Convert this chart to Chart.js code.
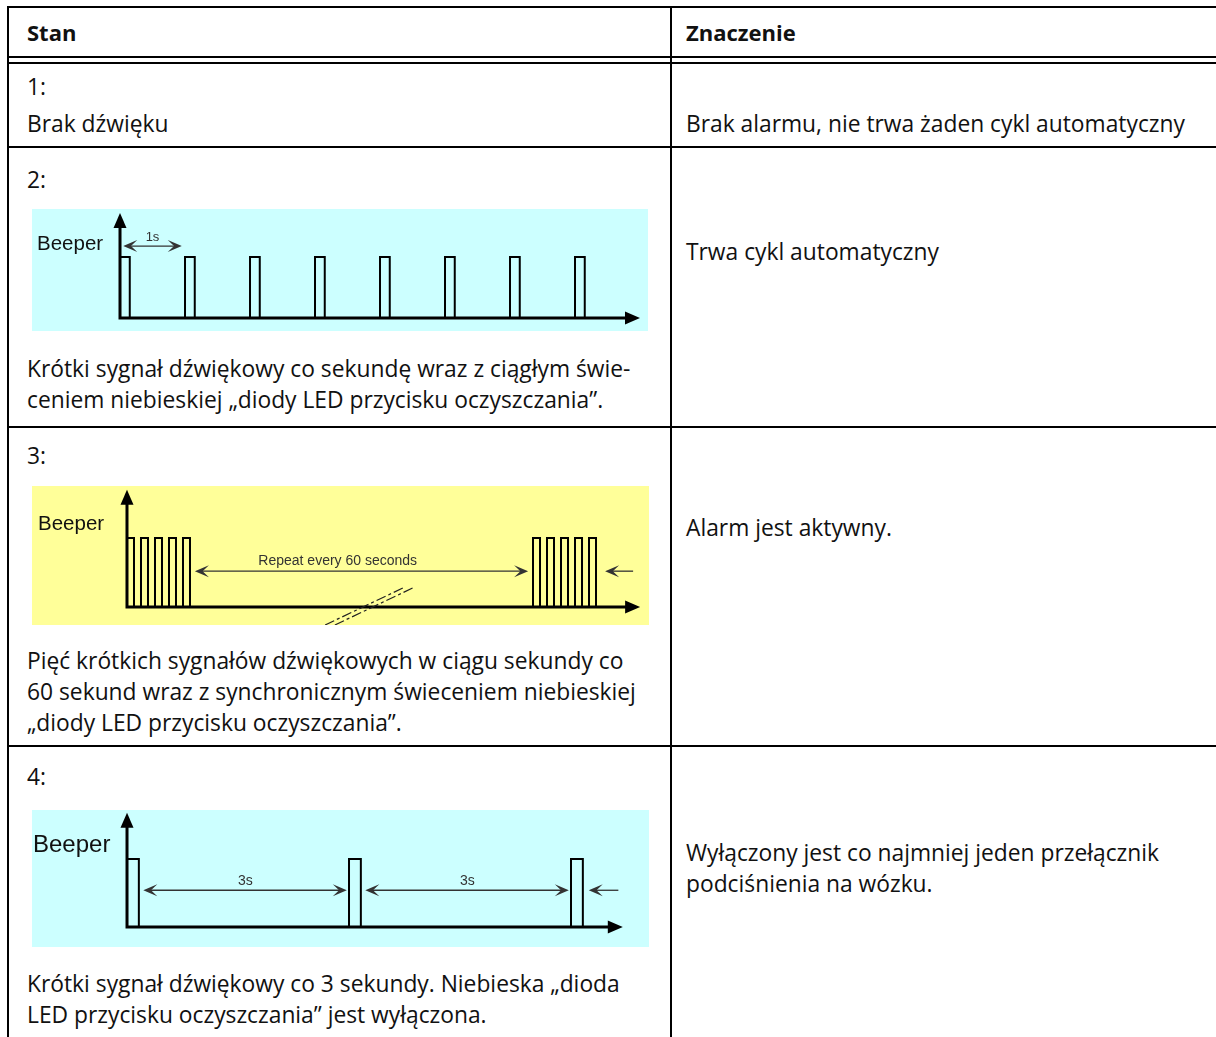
<!DOCTYPE html>
<html>
<head>
<meta charset="utf-8">
<script src="https://cdn.jsdelivr.net/npm/chart.js@4"></script>
<style>
  body { margin: 0; background: #fff; width: 1216px; height: 1037px; overflow: hidden; position: relative;
         font-family: "Open Sans", sans-serif; font-size: 22.8px; color: #111; }
  .ln { position: absolute; background: #000; }
  .t { position: absolute; white-space: nowrap; line-height: 31px; height: 31px; }
  .b { font-weight: bold; font-size: 22px; }
  .d { position: absolute; }
  .d canvas { display: block; }
</style>
</head>
<body>

<!-- table rules -->
<div class="ln" style="left:7px;top:6px;width:1230px;height:2px"></div>
<div class="ln" style="left:7px;top:6px;width:2px;height:1040px"></div>
<div class="ln" style="left:670px;top:6px;width:2px;height:1040px"></div>
<div class="ln" style="left:7px;top:56px;width:1230px;height:2px"></div>
<div class="ln" style="left:7px;top:62px;width:1230px;height:2px"></div>
<div class="ln" style="left:7px;top:146px;width:1230px;height:2px"></div>
<div class="ln" style="left:7px;top:426px;width:1230px;height:2px"></div>
<div class="ln" style="left:7px;top:745px;width:1230px;height:2px"></div>

<div class="t b" style="left:27px;top:17px">Stan</div>
<div class="t b" style="left:686px;top:17px">Znaczenie</div>

<div class="t" style="left:27px;top:71px">1:</div>
<div class="t" style="left:27px;top:108px">Brak dźwięku</div>
<div class="t" style="left:686px;top:108px">Brak alarmu, nie trwa żaden cykl automatyczny</div>

<div class="t" style="left:27px;top:164px">2:</div>
<div class="d" style="left:32px;top:209px;width:616px;height:122px;background:#ccffff"><canvas id="beep2" width="616" height="122"></canvas></div>
<div class="t" style="left:27px;top:353px">Krótki sygnał dźwiękowy co sekundę wraz z ciągłym świe-</div>
<div class="t" style="left:27px;top:384px">ceniem niebieskiej „diody LED przycisku oczyszczania”.</div>
<div class="t" style="left:686px;top:236px">Trwa cykl automatyczny</div>

<div class="t" style="left:27px;top:440px">3:</div>
<div class="d" style="left:32px;top:486px;width:617px;height:139px;background:#ffff99"><canvas id="beep3" width="617" height="139"></canvas></div>
<div class="t" style="left:27px;top:645px">Pięć krótkich sygnałów dźwiękowych w ciągu sekundy co</div>
<div class="t" style="left:27px;top:676px">60 sekund wraz z synchronicznym świeceniem niebieskiej</div>
<div class="t" style="left:27px;top:707px">„diody LED przycisku oczyszczania”.</div>
<div class="t" style="left:686px;top:512px">Alarm jest aktywny.</div>

<div class="t" style="left:27px;top:761px">4:</div>
<div class="d" style="left:32px;top:810px;width:617px;height:137px;background:#ccffff"><canvas id="beep4" width="617" height="137"></canvas></div>
<div class="t" style="left:27px;top:968px">Krótki sygnał dźwiękowy co 3 sekundy. Niebieska „dioda</div>
<div class="t" style="left:27px;top:999px">LED przycisku oczyszczania” jest wyłączona.</div>
<div class="t" style="left:686px;top:837px">Wyłączony jest co najmniej jeden przełącznik</div>
<div class="t" style="left:686px;top:868px">podciśnienia na wózku.</div>

<script>
// beep start times (s) and beep length, per diagram
const PULSES_2 = [0, 1, 2, 3, 4, 5, 6, 7];
const WIDTH_2 = 0.15;
const PULSES_3 = [0, 0.2, 0.4, 0.6, 0.8, 5.8, 6.0, 6.2, 6.4, 6.6]; // time axis is broken
const WIDTH_3 = 0.1;
const PULSES_4 = [0, 3, 6];
const WIDTH_4 = 0.16;

// dimension arrows: [from, to, label, label centre]
const SPANS_2 = [[0.05, 0.95, '1s', 0.5]];
const SPANS_3 = [[0.97, 5.73, 'Repeat every 60 seconds', 3.01]];
const SPANS_4 = [[0.22, 2.97, '3s', 1.6], [3.22, 5.97, '3s', 4.6]];

function waveform(starts, width) {
    const pts = [];
    starts.forEach(s => {
        pts.push({x: s, y: 0}, {x: s, y: 1}, {x: s + width, y: 1}, {x: s + width, y: 0});
    });
    return pts;
}

function arrowHead(ctx, x, y, angle, len, half, notch) {
    ctx.save();
    ctx.translate(x, y);
    ctx.rotate(angle);
    ctx.beginPath();
    ctx.moveTo(0, 0);
    ctx.lineTo(-len, -half);
    ctx.lineTo(-len * notch, 0);
    ctx.lineTo(-len, half);
    ctx.closePath();
    ctx.fill();
    ctx.restore();
}

const diagramPlugin = {
    id: 'diagram',
    afterDatasetsDraw(chart) {
        const o = chart.options.plugins.diagram;
        const ctx = chart.ctx;
        const xs = chart.scales.x, ys = chart.scales.y;
        const x0 = xs.getPixelForValue(0), y0 = ys.getPixelForValue(0);
        ctx.save();

        // axes with arrows
        const xEnd = xs.getPixelForValue(o.xEnd), yEnd = ys.getPixelForValue(o.yEnd);
        ctx.strokeStyle = '#000';
        ctx.fillStyle = '#000';
        ctx.lineWidth = 3;
        ctx.beginPath();
        ctx.moveTo(x0, y0);
        ctx.lineTo(xEnd - 10, y0);
        ctx.moveTo(x0, y0 + 1.5);
        ctx.lineTo(x0, yEnd + 10);
        ctx.stroke();
        arrowHead(ctx, xEnd, y0, 0, 15, 6.5, 1);
        arrowHead(ctx, x0, yEnd, -Math.PI / 2, 15, 6.5, 1);

        // dimension arrows
        ctx.strokeStyle = o.annoColor;
        ctx.fillStyle = o.annoColor;
        ctx.lineWidth = 1.3;
        const ay = ys.getPixelForValue(o.spanY);
        o.spans.forEach(([a, b, label, mid]) => {
            const pa = xs.getPixelForValue(a), pb = xs.getPixelForValue(b);
            ctx.beginPath();
            ctx.moveTo(pa + 4, ay);
            ctx.lineTo(pb - 4, ay);
            ctx.stroke();
            arrowHead(ctx, pb, ay, 0, 14, 6, 0.55);
            arrowHead(ctx, pa, ay, Math.PI, 14, 6, 0.55);
            ctx.font = o.annoFont;
            ctx.textAlign = 'center';
            ctx.textBaseline = 'alphabetic';
            ctx.fillText(label, xs.getPixelForValue(mid), ay - o.labelGap);
        });
        if (o.pointer) {
            const pf = xs.getPixelForValue(o.pointer[0]), pt = xs.getPixelForValue(o.pointer[1]);
            ctx.beginPath();
            ctx.moveTo(pf, ay);
            ctx.lineTo(pt + 4, ay);
            ctx.stroke();
            arrowHead(ctx, pt, ay, Math.PI, 14, 6, 0.55);
        }

        // axis break marks
        if (o.breaks) {
            ctx.strokeStyle = '#222';
            ctx.lineWidth = 1.2;
            ctx.setLineDash([10, 3, 3, 3]);
            o.breaks.forEach(([xa, ya, xb, yb]) => {
                ctx.beginPath();
                ctx.moveTo(xs.getPixelForValue(xa), ys.getPixelForValue(ya));
                ctx.lineTo(xs.getPixelForValue(xb), ys.getPixelForValue(yb));
                ctx.stroke();
            });
            ctx.setLineDash([]);
        }

        // axis name
        ctx.fillStyle = '#111';
        ctx.font = o.nameFont;
        ctx.textAlign = 'left';
        ctx.fillText('Beeper', o.namePos[0], o.namePos[1]);
        ctx.restore();
    }
};

function makeDiagram(id, pulses, width, scale, extra) {
    return new Chart(document.getElementById(id), {
        type: 'line',
        data: {
            datasets: [{
                data: waveform(pulses, width),
                borderColor: '#000',
                borderWidth: 2,
                pointRadius: 0,
                tension: 0,
                fill: false
            }]
        },
        options: {
            responsive: false,
            animation: false,
            devicePixelRatio: 1,
            layout: { padding: 0 },
            scales: {
                x: { type: 'linear', display: false, min: scale[0], max: scale[1] },
                y: { type: 'linear', display: false, min: scale[2], max: scale[3] }
            },
            plugins: {
                legend: { display: false },
                tooltip: { enabled: false },
                diagram: Object.assign({
                    annoColor: '#333',
                    annoFont: '13px "Liberation Sans", Arial, sans-serif',
                    labelGap: 5
                }, extra)
            }
        },
        plugins: [diagramPlugin]
    });
}

makeDiagram('beep2', PULSES_2, WIDTH_2, [-1.354, 8.123, -0.213, 1.787], {
    xEnd: 8.0, yEnd: 1.72, spanY: 1.18, spans: SPANS_2, labelGap: 5,
    annoFont: '13px "Liberation Sans", Arial, sans-serif',
    nameFont: '20.5px "Liberation Sans", Arial, sans-serif', namePos: [5, 41]
});

makeDiagram('beep3', PULSES_3, WIDTH_3, [-1.357, 7.457, -0.26, 1.754], {
    xEnd: 7.33, yEnd: 1.70, spanY: 0.52, spans: SPANS_3, labelGap: 6, pointer: [7.23, 6.83],
    annoFont: '14px "Liberation Sans", Arial, sans-serif',
    breaks: [[2.83, -0.26, 3.97, 0.29], [2.97, -0.26, 4.11, 0.29]],
    nameFont: '20.5px "Liberation Sans", Arial, sans-serif', namePos: [6, 44]
});

makeDiagram('beep4', PULSES_4, WIDTH_4, [-1.284, 7.054, -0.294, 1.72], {
    xEnd: 6.70, yEnd: 1.68, spanY: 0.54, spans: SPANS_4, labelGap: 5, pointer: [6.64, 6.24],
    annoFont: '14px "Liberation Sans", Arial, sans-serif',
    nameFont: '24px "Liberation Sans", Arial, sans-serif', namePos: [1, 42]
});
</script>
</body>
</html>
